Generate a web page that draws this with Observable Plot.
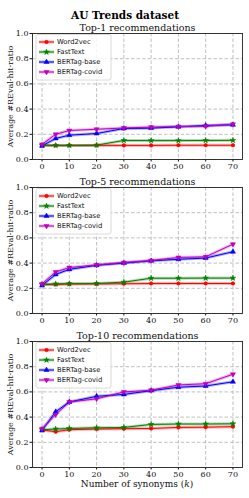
<!DOCTYPE html>
<html><head><meta charset="utf-8">
<script src="https://cdn.jsdelivr.net/npm/d3@7"></script>
<script src="https://cdn.jsdelivr.net/npm/@observablehq/plot@0.6"></script>
<style>body{margin:0;background:#fff}#c svg{display:block;background:#fff}</style>
</head><body><div id="c"></div>
<script>
const ks = [0, 5, 10, 20, 30, 40, 50, 60, 70];
const seriesNames = ["Word2vec", "FastText", "BERTag-base", "BERTag-covid"];
const colors = ["#ff0000", "#008000", "#0000ff", "#bf00bf"];
const xTicks = [0, 10, 20, 30, 40, 50, 60, 70];
const yTicks = [0, 0.2, 0.4, 0.6, 0.8, 1.0];
const mainTitle = "AU Trends dataset";
const panelTitles = ["Top-1 recommendations", "Top-5 recommendations", "Top-10 recommendations"];
const yLabel = "Average #REval-hit-ratio";

// Top-1
const top1_w2v   = [0.113, 0.112, 0.112, 0.112, 0.112, 0.112, 0.113, 0.113, 0.113];
const top1_ft    = [0.112, 0.112, 0.112, 0.114, 0.151, 0.150, 0.150, 0.151, 0.152];
const top1_base  = [0.108, 0.167, 0.193, 0.206, 0.246, 0.249, 0.259, 0.270, 0.275];
const top1_covid = [0.120, 0.200, 0.230, 0.240, 0.250, 0.257, 0.262, 0.264, 0.280];
// Top-5
const top5_w2v   = [0.230, 0.230, 0.235, 0.235, 0.236, 0.238, 0.238, 0.238, 0.238];
const top5_ft    = [0.230, 0.235, 0.236, 0.238, 0.249, 0.280, 0.280, 0.281, 0.281];
const top5_base  = [0.222, 0.310, 0.350, 0.383, 0.400, 0.418, 0.430, 0.440, 0.490];
const top5_covid = [0.235, 0.330, 0.365, 0.385, 0.405, 0.420, 0.445, 0.450, 0.550];
// Top-10
const top10_w2v   = [0.297, 0.284, 0.300, 0.305, 0.308, 0.310, 0.318, 0.320, 0.324];
const top10_ft    = [0.300, 0.305, 0.310, 0.315, 0.318, 0.342, 0.345, 0.345, 0.347];
const top10_base  = [0.294, 0.443, 0.520, 0.565, 0.580, 0.610, 0.637, 0.647, 0.680];
const top10_covid = [0.308, 0.420, 0.520, 0.545, 0.600, 0.613, 0.655, 0.665, 0.740];

const triDown = {
  draw(ctx, size) {
    const y = -Math.sqrt(size / (Math.sqrt(3) * 3));
    ctx.moveTo(0, -y * 2);
    ctx.lineTo(-Math.sqrt(3) * y, y);
    ctx.lineTo(Math.sqrt(3) * y, y);
    ctx.closePath();
  }
};
const symbols = [d3.symbolCircle, d3.symbolStar, d3.symbolTriangle, triDown];
const radii = [1.8, 1.8, 1.9, 1.9];

function panel(idx, values, height, mt, mb, withXLabel) {
  const rows = [];
  seriesNames.forEach((s, j) => ks.forEach((k, n) => rows.push({k, v: values[j][n], s, j})));
  const gridStyle = {stroke: "#b0b0b0", strokeOpacity: 1, strokeDasharray: "3.5,2", strokeWidth: 0.8};
  const marks = [
    Plot.gridX(xTicks, gridStyle),
    Plot.gridY(yTicks, gridStyle),
    Plot.axisX(xTicks, {tickSize: 2.5, tickPadding: 1.5, fontSize: 8, label: null}),
    Plot.axisY(yTicks, {tickSize: 2.5, tickPadding: 1.5, fontSize: 8, tickFormat: d3.format(".1f"),
      label: yLabel, labelAnchor: "center", labelOffset: 25, labelArrow: "none"}),
    Plot.line(rows, {x: "k", y: "v", z: "s", stroke: "s", strokeWidth: 3, strokeOpacity: 0.3}),
    Plot.line(rows, {x: "k", y: "v", z: "s", stroke: "s", strokeWidth: 1})
  ];
  seriesNames.forEach((s, j) => {
    marks.push(Plot.dot(rows.filter(d => d.j === j), {x: "k", y: "v", symbol: () => symbols[j], r: radii[j],
      fill: colors[j], stroke: colors[j], strokeWidth: 0.5}));
  });
  marks.push(Plot.frame({stroke: "#222", strokeWidth: 0.9}));
  marks.push(Plot.text([panelTitles[idx]], {text: d => d, frameAnchor: "top", lineAnchor: "bottom", dy: -3, fontSize: 9.5, fill: "#111"}));
  if (idx === 0) {
    marks.push(Plot.text([mainTitle], {text: d => d, frameAnchor: "top", lineAnchor: "bottom", dx: -12.5, dy: -15, fontSize: 10.5, fontWeight: "bold", fill: "#000"}));
  }
  const svg = Plot.plot({
    width: 249, height,
    marginLeft: 32, marginRight: 7, marginTop: mt, marginBottom: mb,
    style: {fontFamily: "'DejaVu Serif', serif", fontSize: "8px", color: "#111", background: "#fff"},
    x: {domain: [-3.5, 73.5]},
    y: {domain: [0, 1]},
    color: {domain: seriesNames, range: colors},
    symbol: {type: "identity"},
    marks
  });
  const g = d3.select(svg).append("g").attr("font-family", "'DejaVu Sans', sans-serif").attr("font-size", 6.8)
    .attr("text-anchor", "start");
  g.append("rect").attr("x", 36).attr("y", mt + 1.5).attr("width", 75).attr("height", 45.5).attr("rx", 2)
    .attr("fill", "#fff").attr("fill-opacity", 0.85).attr("stroke", "#d0d0d0").attr("stroke-width", 0.8);
  seriesNames.forEach((s, j) => {
    const y = mt + 9 + 10 * j;
    g.append("line").attr("x1", 39).attr("x2", 54).attr("y1", y).attr("y2", y)
      .attr("stroke", colors[j]).attr("stroke-width", 3).attr("stroke-opacity", 0.3);
    g.append("line").attr("x1", 39).attr("x2", 54).attr("y1", y).attr("y2", y)
      .attr("stroke", colors[j]).attr("stroke-width", 1);
    g.append("path").attr("transform", `translate(46.5,${y})`)
      .attr("d", d3.symbol(symbols[j], Math.PI * radii[j] * radii[j])())
      .attr("fill", colors[j]).attr("stroke", colors[j]).attr("stroke-width", 0.5);
    g.append("text").attr("x", 57).attr("y", y).attr("dy", "0.35em").attr("text-anchor", "start")
      .attr("fill", "#111").text(s);
  });
  if (withXLabel) {
    const t = d3.select(svg).append("text").attr("x", 137).attr("y", height - 11)
      .attr("text-anchor", "middle").attr("font-family", "'DejaVu Serif', serif").attr("font-size", 9).attr("fill", "#111");
    t.append("tspan").text("Number of synonyms (");
    t.append("tspan").attr("font-style", "italic").text("k");
    t.append("tspan").text(")");
  }
  return svg;
}

const c = document.getElementById("c");
c.appendChild(panel(0, [top1_w2v, top1_ft, top1_base, top1_covid], 172, 33, 13, false));
c.appendChild(panel(1, [top5_w2v, top5_ft, top5_base, top5_covid], 154, 15, 13, false));
c.appendChild(panel(2, [top10_w2v, top10_ft, top10_base, top10_covid], 172, 15, 31, true));
</script>
</body></html>
